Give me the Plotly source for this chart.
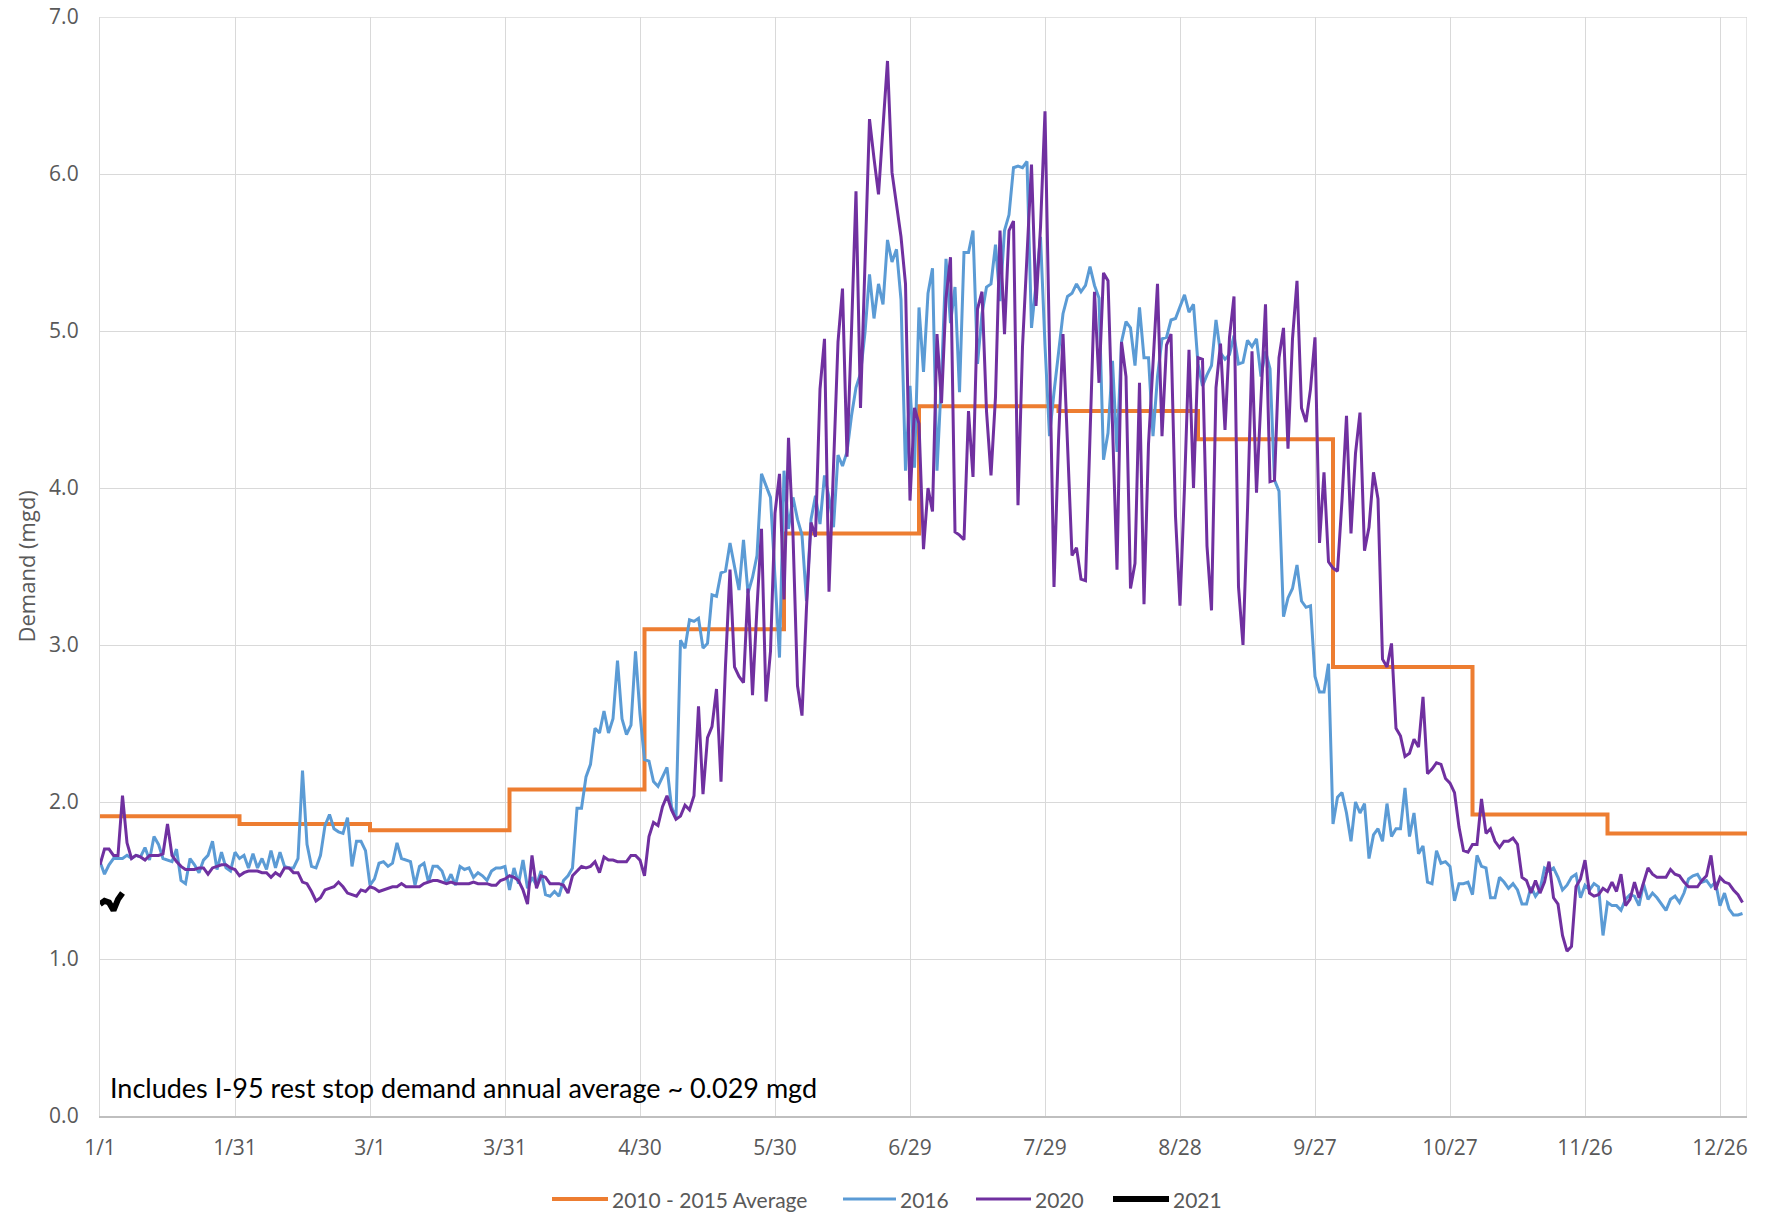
import plotly.graph_objects as go

# ---------------- data ----------------
tick_days = [0, 30, 60, 90, 120, 150, 180, 210, 240, 270, 300, 330, 360]
tick_labels = ["1/1", "1/31", "3/1", "3/31", "4/30", "5/30", "6/29", "7/29",
               "8/28", "9/27", "10/27", "11/26", "12/26"]

month_start_days = [0, 31, 60, 91, 121, 152, 182, 213, 244, 274, 305, 335, 366]
avg_2010_2015 = [1.91, 1.86, 1.82, 2.08, 3.10, 3.71, 4.52, 4.49, 4.31, 2.86, 1.92, 1.80, 1.80]

demand_2016 = [
    1.62, 1.54, 1.60, 1.64, 1.64, 1.64, 1.66, 1.64, 1.66, 1.65,
    1.71, 1.63, 1.78, 1.73, 1.64, 1.63, 1.62, 1.70, 1.50, 1.48,
    1.64, 1.60, 1.55, 1.63, 1.66, 1.75, 1.57, 1.68, 1.58, 1.56,
    1.68, 1.64, 1.66, 1.58, 1.67, 1.58, 1.64, 1.57, 1.69, 1.58,
    1.68, 1.59, 1.58, 1.58, 1.64, 2.20, 1.73, 1.59, 1.58, 1.66,
    1.85, 1.92, 1.83, 1.81, 1.80, 1.90, 1.59, 1.75, 1.75, 1.69,
    1.47, 1.51, 1.61, 1.62, 1.59, 1.61, 1.74, 1.64, 1.63, 1.62,
    1.47, 1.59, 1.61, 1.49, 1.59, 1.59, 1.56, 1.48, 1.54, 1.47,
    1.59, 1.57, 1.58, 1.52, 1.55, 1.53, 1.50, 1.56, 1.58, 1.58,
    1.59, 1.44, 1.58, 1.48, 1.63, 1.45, 1.52, 1.47, 1.56, 1.41,
    1.40, 1.43, 1.40, 1.50, 1.53, 1.58, 1.96, 1.96, 2.16, 2.24,
    2.47, 2.44, 2.58, 2.44, 2.53, 2.90, 2.53, 2.43, 2.49, 2.96,
    2.56, 2.27, 2.26, 2.13, 2.10, 2.16, 2.22, 1.97, 1.90, 3.03,
    2.98, 3.16, 3.15, 3.17, 2.98, 3.01, 3.32, 3.31, 3.46, 3.47,
    3.65, 3.50, 3.35, 3.67, 3.33, 3.43, 3.57, 4.09, 4.02, 3.94,
    3.43, 2.92, 4.11, 3.74, 3.94, 3.80, 3.70, 3.28, 3.80, 3.95,
    3.77, 4.08, 3.94, 3.75, 4.21, 4.14, 4.23, 4.46, 4.64, 4.73,
    4.99, 5.36, 5.08, 5.30, 5.17, 5.58, 5.44, 5.52, 5.20, 4.11,
    4.65, 4.13, 5.15, 4.74, 5.24, 5.40, 4.11, 4.70, 5.46, 5.05,
    5.28, 4.61, 5.50, 5.50, 5.64, 4.79, 5.11, 5.28, 5.30, 5.55,
    5.19, 5.64, 5.74, 6.04, 6.05, 6.04, 6.08, 5.02, 5.30, 5.60,
    4.91, 4.33, 4.61, 4.86, 5.11, 5.22, 5.24, 5.30, 5.25, 5.29,
    5.41, 5.29, 5.21, 4.18, 4.35, 4.81, 4.23, 4.93, 5.06, 5.02,
    4.78, 5.15, 4.83, 4.83, 4.33, 4.71, 4.95, 4.96, 5.07, 5.08,
    5.15, 5.23, 5.12, 5.17, 4.79, 4.65, 4.72, 4.78, 5.07, 4.86,
    4.82, 4.85, 4.97, 4.79, 4.80, 4.94, 4.90, 4.95, 4.71, 4.87,
    4.76, 4.05, 3.98, 3.18, 3.30, 3.36, 3.51, 3.28, 3.24, 3.25,
    2.80, 2.70, 2.70, 2.88, 1.86, 2.03, 2.06, 1.93, 1.75, 2.00,
    1.93, 1.99, 1.64, 1.79, 1.83, 1.75, 1.99, 1.78, 1.83, 1.83,
    2.09, 1.78, 1.93, 1.67, 1.72, 1.49, 1.48, 1.69, 1.61, 1.62,
    1.59, 1.37, 1.48, 1.48, 1.49, 1.41, 1.66, 1.59, 1.58, 1.39,
    1.39, 1.52, 1.49, 1.45, 1.48, 1.44, 1.35, 1.35, 1.46, 1.40,
    1.44, 1.58, 1.56, 1.58, 1.52, 1.44, 1.47, 1.52, 1.54, 1.39,
    1.47, 1.44, 1.48, 1.46, 1.15, 1.36, 1.34, 1.34, 1.31, 1.38,
    1.41, 1.40, 1.34, 1.48, 1.38, 1.42, 1.39, 1.35, 1.31, 1.38,
    1.40, 1.36, 1.42, 1.51, 1.53, 1.54, 1.49, 1.50, 1.46, 1.49,
    1.34, 1.42, 1.32, 1.28, 1.28, 1.29,
]

demand_2020 = [
    1.60, 1.70, 1.70, 1.66, 1.66, 2.04, 1.74, 1.64, 1.66, 1.65,
    1.63, 1.66, 1.66, 1.66, 1.67, 1.86, 1.66, 1.62, 1.59, 1.57,
    1.57, 1.57, 1.58, 1.58, 1.54, 1.58, 1.59, 1.60, 1.60, 1.58,
    1.57, 1.53, 1.55, 1.56, 1.56, 1.56, 1.55, 1.55, 1.52, 1.55,
    1.53, 1.58, 1.58, 1.55, 1.55, 1.49, 1.48, 1.43, 1.37, 1.39,
    1.44, 1.45, 1.46, 1.49, 1.46, 1.42, 1.41, 1.40, 1.44, 1.43,
    1.46, 1.45, 1.43, 1.44, 1.45, 1.46, 1.46, 1.48, 1.46, 1.46,
    1.46, 1.46, 1.48, 1.49, 1.50, 1.50, 1.49, 1.48, 1.49, 1.48,
    1.48, 1.48, 1.48, 1.49, 1.48, 1.48, 1.48, 1.47, 1.47, 1.50,
    1.51, 1.53, 1.52, 1.50, 1.44, 1.35, 1.66, 1.45, 1.53, 1.52,
    1.48, 1.48, 1.48, 1.47, 1.42, 1.53, 1.56, 1.59, 1.58, 1.59,
    1.62, 1.55, 1.65, 1.63, 1.63, 1.62, 1.62, 1.62, 1.66, 1.66,
    1.63, 1.53, 1.78, 1.87, 1.85, 1.97, 2.04, 1.95, 1.89, 1.91,
    1.98, 1.95, 2.04, 2.61, 2.05, 2.41, 2.48, 2.72, 2.13, 2.87,
    3.48, 2.86, 2.80, 2.76, 3.36, 2.68, 3.24, 3.74, 2.64, 2.96,
    3.84, 4.09, 3.29, 4.32, 3.70, 2.74, 2.55, 3.24, 3.78, 3.69,
    4.63, 4.95, 3.34, 4.10, 4.93, 5.27, 4.20, 5.00, 5.89, 4.51,
    5.40, 6.35, 6.10, 5.87, 6.30, 6.72, 6.01, 5.81, 5.60, 5.30,
    3.92, 4.51, 4.41, 3.61, 4.00, 3.85, 4.98, 4.54, 5.21, 5.47,
    3.72, 3.70, 3.67, 4.49, 4.07, 5.14, 5.25, 4.49, 4.08, 4.58,
    5.64, 4.98, 5.64, 5.70, 3.89, 4.90, 5.50, 6.06, 5.16, 5.66,
    6.40, 4.91, 3.37, 4.30, 4.98, 4.28, 3.57, 3.62, 3.42, 3.41,
    4.33, 5.25, 4.67, 5.37, 5.32, 4.38, 3.48, 4.93, 4.71, 3.36,
    3.52, 4.67, 3.26, 4.28, 4.80, 5.30, 4.33, 4.91, 4.98, 3.82,
    3.25, 4.00, 4.88, 4.00, 4.83, 4.82, 3.63, 3.22, 4.64, 4.92,
    4.37, 4.96, 5.22, 3.37, 3.00, 3.86, 4.87, 3.97, 4.57, 5.17,
    4.04, 4.05, 4.83, 5.02, 4.25, 4.95, 5.32, 4.51, 4.42, 4.63,
    4.96, 3.65, 4.10, 3.53, 3.49, 3.47, 3.92, 4.46, 3.71, 4.22,
    4.48, 3.60, 3.75, 4.10, 3.93, 2.91, 2.86, 3.01, 2.47, 2.42,
    2.29, 2.31, 2.40, 2.35, 2.67, 2.18, 2.21, 2.25, 2.24, 2.15,
    2.12, 2.06, 1.84, 1.69, 1.68, 1.73, 1.73, 2.02, 1.80, 1.83,
    1.75, 1.71, 1.75, 1.75, 1.77, 1.73, 1.52, 1.50, 1.42, 1.50,
    1.42, 1.49, 1.62, 1.39, 1.35, 1.15, 1.05, 1.08, 1.46, 1.51,
    1.63, 1.42, 1.40, 1.41, 1.45, 1.43, 1.49, 1.43, 1.54, 1.34,
    1.38, 1.49, 1.39, 1.49, 1.58, 1.54, 1.52, 1.52, 1.52, 1.57,
    1.54, 1.53, 1.49, 1.46, 1.46, 1.46, 1.50, 1.53, 1.66, 1.44,
    1.52, 1.49, 1.48, 1.44, 1.41, 1.36,
]

demand_2021 = [1.35, 1.37, 1.36, 1.31, 1.38, 1.42]

series_names = ["2010 - 2015 Average", "2016", "2020", "2021"]
series_colors = ["#ED7D31", "#5B9BD5", "#7030A0", "#000000"]
series_widths = [4, 3, 3, 6]

days_2016 = list(range(len(demand_2016)))
days_2020 = list(range(len(demand_2020)))
days_2021 = list(range(len(demand_2021)))

# ---------------- figure ----------------
GRID = "#D9D9D9"
TXT = "#595959"
OFF = 8  # default page body margin in the written HTML
W, H = 1767 - OFF, 1215 - OFF
ML, MR, MT, MB = 100 - OFF, 20, 17 - OFF, 99
PW, PH = W - ML - MR, H - MT - MB


def px_to_paper_x(page_px):
    return (page_px - OFF - ML) / PW


def px_to_paper_y(page_py):
    return (H - MB - (page_py - OFF)) / PH


fig = go.Figure()
fig.add_trace(go.Scatter(x=month_start_days, y=avg_2010_2015, mode="lines",
                         line=dict(color=series_colors[0], width=series_widths[0], shape="hv"),
                         name=series_names[0], showlegend=False))
fig.add_trace(go.Scatter(x=days_2016, y=demand_2016, mode="lines",
                         line=dict(color=series_colors[1], width=series_widths[1]),
                         name=series_names[1], showlegend=False))
fig.add_trace(go.Scatter(x=days_2020, y=demand_2020, mode="lines",
                         line=dict(color=series_colors[2], width=series_widths[2]),
                         name=series_names[2], showlegend=False))
fig.add_trace(go.Scatter(x=days_2021, y=demand_2021, mode="lines",
                         line=dict(color=series_colors[3], width=series_widths[3]),
                         name=series_names[3], showlegend=False))

# manual legend (Excel-style long swatches), positions in page pixels
legend_swatch_px = [(552, 608), (843, 896), (976, 1031), (1113, 1169)]
legend_y = px_to_paper_y(1199)
shapes = [
    dict(type="line", xref="x", yref="paper", x0=366, x1=366, y0=0, y1=1,
         line=dict(color=GRID, width=1.3), layer="below"),
    dict(type="line", xref="paper", yref="y", x0=0, x1=1, y0=7, y1=7,
         line=dict(color=GRID, width=1.3), layer="below"),
]
annotations = [
    dict(text="Includes I-95 rest stop demand annual average ~ 0.029 mgd",
         xref="x", yref="y", x=1.8, y=0.18, xanchor="left", yanchor="middle",
         showarrow=False, font=dict(family="Lato", size=27, color="#000000")),
    dict(text="Demand (mgd)", xref="paper", yref="paper", x=px_to_paper_x(25), y=0.5,
         xanchor="center", yanchor="middle", textangle=-90, showarrow=False,
         font=dict(family="Open Sans", size=22, color=TXT)),
]
for (x0, x1), name, color, wdt in zip(legend_swatch_px, series_names, series_colors, series_widths):
    shapes.append(dict(type="line", xref="paper", yref="paper",
                       x0=px_to_paper_x(x0), x1=px_to_paper_x(x1), y0=legend_y, y1=legend_y,
                       line=dict(color=color, width=wdt)))
    annotations.append(dict(text=name, xref="paper", yref="paper",
                            x=px_to_paper_x(x1 + 2), y=legend_y, xanchor="left", yanchor="middle",
                            showarrow=False, font=dict(family="Lato", size=21, color=TXT)))

fig.update_layout(
    width=W, height=H,
    margin=dict(l=ML, r=MR, t=MT, b=MB, autoexpand=False),
    paper_bgcolor="white", plot_bgcolor="white",
    showlegend=False,
    xaxis=dict(range=[0, 366], tickmode="array", tickvals=tick_days, ticktext=tick_labels,
               showgrid=True, gridcolor=GRID, gridwidth=1.3, zeroline=False,
               showline=True, linecolor="#BFBFBF", linewidth=1.5, ticks="",
               tickfont=dict(family="Open Sans", size=21, color=TXT),
               ticklabelstandoff=12, automargin=False, ticklabeloverflow="allow"),
    yaxis=dict(range=[0, 7], tickmode="array", tickvals=[0, 1, 2, 3, 4, 5, 6, 7],
               tickformat=".1f", showgrid=True, gridcolor=GRID, gridwidth=1.3,
               zeroline=False, showline=True, linecolor=GRID, linewidth=1.3, ticks="",
               tickfont=dict(family="Open Sans", size=21, color=TXT),
               ticklabelstandoff=16, automargin=False, ticklabeloverflow="allow"),
    annotations=annotations,
    shapes=shapes,
)

fig.write_html("out.html")
